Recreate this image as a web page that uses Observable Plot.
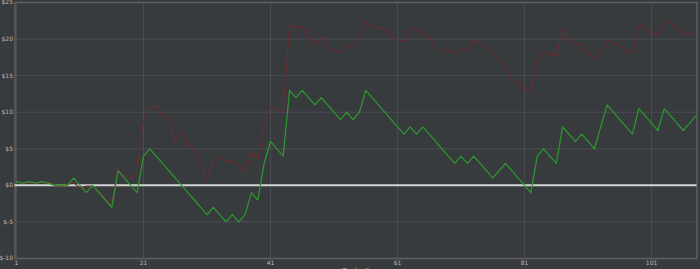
<!DOCTYPE html>
<html>
<head>
<meta charset="utf-8">
<script src="https://cdn.jsdelivr.net/npm/d3@7"></script>
<script src="https://cdn.jsdelivr.net/npm/@observablehq/plot@0.6"></script>
<style>
  html, body { margin: 0; padding: 0; background: #383b3e; overflow: hidden; }
  #chart { width: 700px; height: 269px; }
</style>
</head>
<body>
<div id="chart"></div>
<script>
// Trade numbers 1..108
const trades = Array.from({length: 108}, (_, i) => i + 1);

// Green series (net P/L, $)
const greenValues = [
  0.5, 0.3, 0.5, 0.3, 0.5, 0.3, 0, 0.1, 0, 1,
  0, -1, 0, -1, -2, -3, 2, 1, 0, -1,
  4, 5, 4, 3, 2, 1, 0, -1, -2, -3,
  -4, -3, -4, -5, -4, -5, -4, -1, -2, 3,
  6, 5, 4, 13, 12, 13, 12, 11, 12, 11,
  10, 9, 10, 9, 10, 13, 12, 11, 10, 9,
  8, 7, 8, 7, 8, 7, 6, 5, 4, 3,
  4, 3, 4, 3, 2, 1, 2, 3, 2, 1,
  0, -1, 4, 5, 4, 3, 8, 7, 6, 7,
  6, 5, 8, 11, 10, 9, 8, 7, 10.5, 9.5,
  8.5, 7.5, 10.5, 9.5, 8.5, 7.5, 8.5, 9.5
];

// Red series ($)
const redValues = [
  0.5, 0.3, 0.3, 0.4, 0.3, 0.4, 0.1, -0.1, 0.1, 0.4,
  -0.4, -0.1, -0.1, -0.9, -1.7, -2.5, 2.3, 1.4, 0.9, 1.8,
  8.9, 10.7, 10.8, 9.6, 9.1, 5.8, 7.4, 5.7, 4.9, 2.9,
  0.7, 3.3, 4.0, 3.3, 3.4, 2.8, 1.7, 4.5, 3.5, 8.4,
  10.6, 10.3, 10.1, 21.9, 21.6, 21.7, 20.3, 19.3, 20.2, 18.6,
  18.5, 18.2, 19.3, 18.6, 20.5, 22.3, 21.8, 21.4, 21.5, 20.6,
  19.8, 19.8, 21.4, 21.4, 20.7, 20.4, 18.8, 18.5, 18.5, 18.0,
  18.9, 18.2, 19.9, 19.3, 19.0, 17.7, 17.3, 16.2, 14.2, 14.1,
  13.3, 12.8, 17.1, 18.1, 18.0, 17.7, 21.4, 20.0, 19.2, 19.2,
  18.0, 17.4, 18.0, 20.0, 19.4, 19.2, 18.3, 18.3, 21.8, 21.7,
  21.0, 20.5, 22.5, 22.2, 21.6, 21.0, 20.6, 20.7
];

const xTicks = [1, 21, 41, 61, 81, 101];
const yTicks = [-10, -5, 0, 5, 10, 15, 20, 25];
const xLabel = "Trade #";

const green = trades.map((t, i) => ({t, v: greenValues[i]}));
const red = trades.map((t, i) => ({t, v: redValues[i]}));

const chart = Plot.plot({
  width: 700,
  height: 269,
  marginLeft: 14.5,
  marginRight: 3.5,
  marginTop: 2,
  marginBottom: 11,
  style: {background: "#383b3e", color: "#b8b8b8", fontFamily: "DejaVu Sans", fontSize: "6px"},
  x: {domain: [1, 108], range: [16, 695.5]},
  y: {domain: [-10, 25], range: [258, 2]},
  marks: [
    Plot.gridX(xTicks, {stroke: "#4a4d51", strokeOpacity: 1, strokeWidth: 1}),
    Plot.gridY(yTicks, {stroke: "#4a4d51", strokeOpacity: 1, strokeWidth: 1}),
    Plot.frame({stroke: "#5c5f63", strokeWidth: 1.5}),
    Plot.axisX(xTicks, {tickSize: 0, tickPadding: 2, fontSize: 6, fill: "#b8b8b8", label: null}),
    Plot.axisY(yTicks, {tickSize: 0, tickPadding: 2, fontSize: 6, fill: "#b8b8b8", label: null, tickFormat: d => "$" + d}),
    Plot.ruleY([0], {stroke: "#d4d4d4", strokeWidth: 2}),
    Plot.line(red, {x: "t", y: "v", stroke: "#6b2d31", strokeWidth: 1.1}),
    Plot.line(green, {x: "t", y: "v", stroke: "#2c9a2c", strokeWidth: 1.2}),
    Plot.text([xLabel], {frameAnchor: "bottom", dy: 14, fontSize: 7, fill: "#b8b8b8"})
  ]
});
chart.style.overflow = "hidden";
document.getElementById("chart").append(chart);
</script>
</body>
</html>
